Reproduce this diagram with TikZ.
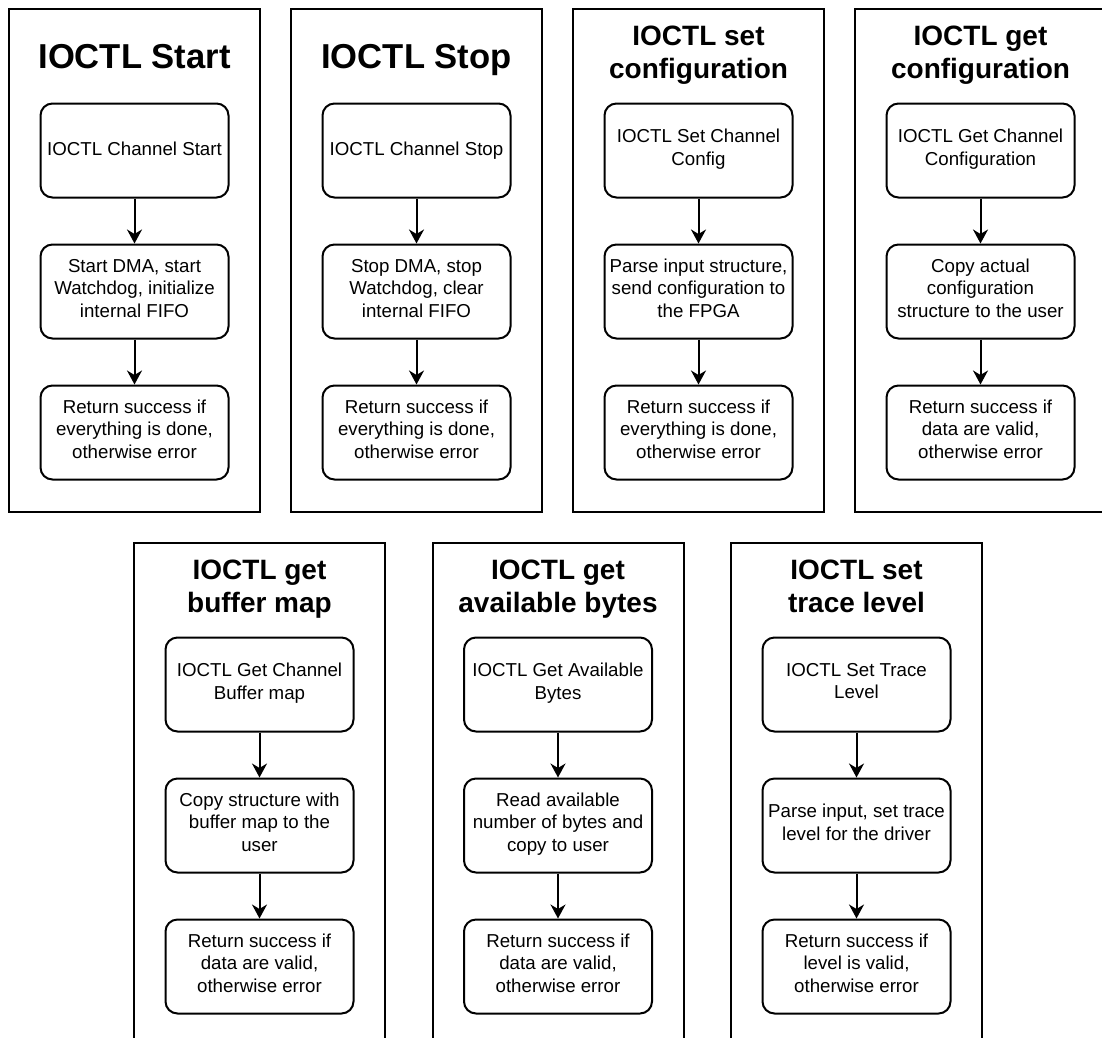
\documentclass[tikz,border=0pt]{standalone}
\usepackage{fontspec}
\setmainfont{Liberation Sans}
\usetikzlibrary{arrows.meta}

% One IOCTL column: frame, heading and a chain of three steps.
% #1 name, #2 left x, #3 top y, #4 bottom y, #5 heading style,
% #6 heading, #7..#9 step texts
\newcommand\ioctlpanel[9]{%
  \draw[panel] (#2,#3) rectangle (#2+251,#4);
  \node[#5] (#1-title) at (#2+125.5,#3+48) {#6};
  \node[stepbox] (#1-a) at (#2+125.5,#3+141.5) {#7};
  \node[stepbox] (#1-b) at (#2+125.5,#3+282.5) {#8};
  \node[stepbox] (#1-c) at (#2+125.5,#3+423.5) {#9};
  \draw[flow] (#1-a) -- (#1-b);
  \draw[flow] (#1-b) -- (#1-c);
}

\begin{document}
\begin{tikzpicture}[x=1pt,y=-1pt,
  strutted/.style={execute at begin node=\strut,execute at end node=\strut},
  panel/.style={draw=black,line width=2pt},
  title/.style={strutted,font=\bfseries\fontsize{28}{33}\selectfont,
    align=center,inner sep=0pt},
  bigtitle/.style={strutted,font=\bfseries\fontsize{34.6}{40}\selectfont,
    align=center,inner sep=0pt,yshift=-3.4pt},
  stepbox/.style={strutted,draw=black,line width=2pt,rounded corners=12pt,
    minimum width=188pt,minimum height=94pt,inner sep=0pt,align=center,
    font=\fontsize{18.7}{22.5}\selectfont},
  flow/.style={line width=2pt,-{Stealth[length=14pt,width=15pt,inset=4.5pt]}}]

\fill[white] (0,0) rectangle (1102,1037);
\useasboundingbox (0,0) rectangle (1102,1037);
\clip (0,0) rectangle (1102,1037);

% upper row
\ioctlpanel{start}{9}{9}{511.5}{bigtitle}{IOCTL Start}
  {IOCTL Channel Start}
  {Start DMA, start\\Watchdog, initialize\\internal FIFO}
  {Return success if\\everything is done,\\otherwise error}
\ioctlpanel{stop}{291}{9}{511.5}{bigtitle}{IOCTL Stop}
  {IOCTL Channel Stop}
  {Stop DMA, stop\\Watchdog, clear\\internal FIFO}
  {Return success if\\everything is done,\\otherwise error}
\ioctlpanel{setcfg}{573}{9}{511.5}{title}{IOCTL set\\configuration}
  {IOCTL Set Channel\\Config}
  {Parse input structure,\\send configuration to\\the FPGA}
  {Return success if\\everything is done,\\otherwise error}
\ioctlpanel{getcfg}{855}{9}{511.5}{title}{IOCTL get\\configuration}
  {IOCTL Get Channel\\Configuration}
  {Copy actual\\configuration\\structure to the user}
  {Return success if\\data are valid,\\otherwise error}

% lower row
\ioctlpanel{bufmap}{134}{543}{1100}{title}{IOCTL get\\buffer map}
  {IOCTL Get Channel\\Buffer map}
  {Copy structure with\\buffer map to the\\user}
  {Return success if\\data are valid,\\otherwise error}
\ioctlpanel{avail}{432.5}{543}{1100}{title}{IOCTL get\\available bytes}
  {IOCTL Get Available\\Bytes}
  {Read available\\number of bytes and\\copy to user}
  {Return success if\\data are valid,\\otherwise error}
\ioctlpanel{trace}{731}{543}{1100}{title}{IOCTL set\\trace level}
  {IOCTL Set Trace\\Level}
  {Parse input, set trace\\level for the driver}
  {Return success if\\level is valid,\\otherwise error}
\end{tikzpicture}
\end{document}
